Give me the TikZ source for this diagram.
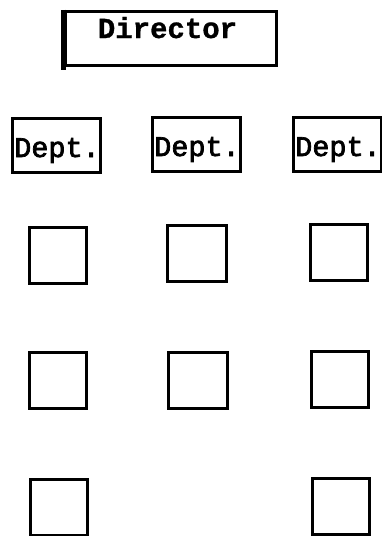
\documentclass[tikz,border=0pt]{standalone}
\usepackage{fontspec}
\setmonofont{Liberation Mono}
\newfontfamily\deptfont[FakeBold=2.5]{Liberation Mono}
\newfontfamily\dirfont[FakeBold=1]{Liberation Mono Bold}
\begin{document}
\begin{tikzpicture}[x=1pt,y=-1pt,
  box/.style={draw=black, line width=3pt, inner sep=0pt, rectangle},
  dirbox/.style={box, minimum width=211pt, minimum height=54pt,
     font=\dirfont\fontsize{29}{30}\selectfont, text height=12pt, text depth=12pt},
  deptbox/.style={box, minimum width=88pt, minimum height=54pt,
     font=\deptfont\fontsize{28.5}{30}\selectfont, text height=23pt, text depth=0pt},
  sq/.style={box, minimum width=57pt, minimum height=56pt}]
\useasboundingbox (0,0) rectangle (382,536);
\node[dirbox] (dir) at (170.5,38) {\hspace*{-6pt}Director};
\draw[line width=4.5pt] (dir.north west) -- ([yshift=-3pt]dir.south west);
\node[deptbox] (d1) at (56,145.5) {\hspace*{2pt}Dept.};
\node[deptbox] (d2) at (196,144.5) {\hspace*{2pt}Dept.};
\node[deptbox] (d3) at (337,144.5) {\hspace*{2pt}Dept.};
\node[sq] (s11) at (57.5,255) {};
\node[sq, minimum width=59pt] (s12) at (197,253) {};
\node[sq] (s13) at (339,252.5) {};
\node[sq] (s21) at (58,380.5) {};
\node[sq, minimum width=59pt] (s22) at (198,380.5) {};
\node[sq] (s23) at (339.5,379.5) {};
\node[sq] (s31) at (59,507) {};
\node[sq] (s33) at (340.5,506) {};
\end{tikzpicture}
\end{document}
